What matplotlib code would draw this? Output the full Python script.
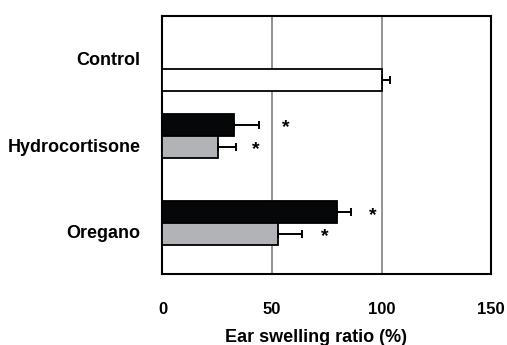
import matplotlib.pyplot as plt
import numpy as np

plt.rcParams["font.family"] = ["Liberation Sans", "DejaVu Sans"]
plt.rcParams["font.weight"] = "bold"

# ====== data ======
categories = ["Control", "Hydrocortisone", "Oregano"]
control_val = 100.0
control_err = 3.9
black_vals = [32.8, 79.5]      # Hydrocortisone, Oregano (dark bars)
black_errs = [11.4, 6.6]
gray_vals = [25.5, 52.6]       # Hydrocortisone, Oregano (gray bars)
gray_errs = [7.9, 11.0]
star_black_x = [56.3, 96.0]
star_gray_x = [42.5, 74.3]
xticks = [0, 50, 100, 150]

# ====== layout ======
control_y = 0.364
group_y = np.array([1.0, 2.0])
label_y = [0.12, 1.11, 2.10]
h = 0.25

c_black = "#060709"
c_gray = "#b1b3b6"

fig = plt.figure(figsize=(5.07, 3.45), dpi=100)
ax = fig.add_axes([0.3205, 0.205, 0.648, 0.7495])

ekw = dict(elinewidth=1.4, capthick=1.4, ecolor="black", capsize=2.6)
ax.barh(control_y, control_val, h, color="white", edgecolor="black",
        linewidth=1.3, xerr=[[0], [control_err]], error_kw=ekw, zorder=3)
ax.barh(group_y - h / 2, black_vals, h, color=c_black, edgecolor="black",
        linewidth=1.3, xerr=[[0, 0], black_errs], error_kw=ekw, zorder=3)
ax.barh(group_y + h / 2, gray_vals, h, color=c_gray, edgecolor="black",
        linewidth=1.3, xerr=[[0, 0], gray_errs], error_kw=ekw, zorder=3)

for xs, ys in [(star_black_x, group_y - h / 2), (star_gray_x, group_y + h / 2)]:
    for sx, sy in zip(xs, ys):
        ax.annotate("*", xy=(sx, sy), xytext=(0, -5.5), textcoords="offset points",
                    ha="center", va="baseline", fontsize=14, fontweight="bold")

ax.set_xlim(0, 150)
ax.set_ylim(2.588, -0.375)
ax.set_xticks(xticks)
ax.set_xticklabels([str(t) for t in xticks], fontsize=12, fontweight="bold")
ax.set_yticks(label_y)
ax.set_yticklabels(categories, fontsize=13, fontweight="bold")
ax.tick_params(axis="x", length=0, pad=20)
ax.tick_params(axis="y", length=0, pad=16)
ax.grid(axis="x", color="#808080", linewidth=1.2, zorder=0)
ax.set_axisbelow(True)
for s in ax.spines.values():
    s.set_linewidth(1.5)
    s.set_color("black")

ax.set_xlabel("Ear swelling ratio (%)", fontsize=13, fontweight="bold")
ax.xaxis.set_label_coords(0.467, -0.21)
ax.xaxis.label.set_va("top")

fig.savefig("out.png", dpi=100, facecolor="white")
plt.close()
